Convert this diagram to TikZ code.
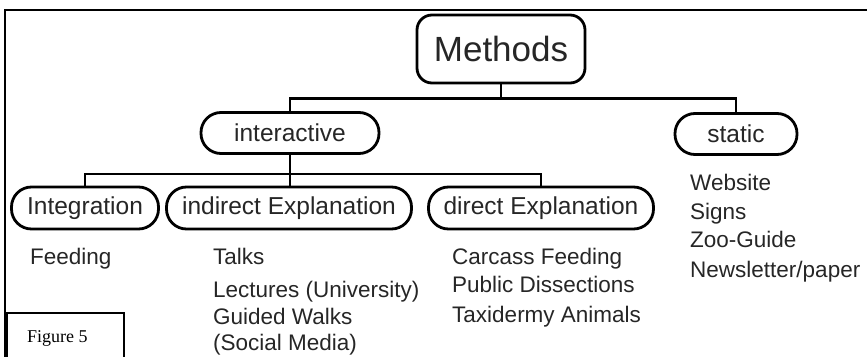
\documentclass[tikz,border=0pt]{standalone}
\usepackage{fontspec}
\setmainfont{Liberation Sans}
\newfontfamily\figfont{Liberation Serif}
\begin{document}
\begin{tikzpicture}[x=1pt,y=-1pt,
  box/.style={draw, line width=2.8pt, inner sep=0pt, rounded corners=20pt,
    font=\fontsize{24.5}{28}\selectfont, text=black!85},
  conn/.style={line width=2.8pt},
  item/.style={anchor=base west, inner sep=0pt,
    font=\fontsize{22.5}{26}\selectfont, text=black!85}]
\useasboundingbox (0,0) rectangle (867,356);
\draw[line width=2pt] (5,362) -- (5,10) -- (870,10);
% boxes
\node[box, rounded corners=15pt, minimum width=168pt, minimum height=68pt,
  font=\fontsize{35}{38}\selectfont] (methods) at (501,49) {Methods};
\node[box, minimum width=178pt, minimum height=41pt] (interactive) at (290,133) {interactive};
\node[box, minimum width=122pt, minimum height=41pt] (static) at (736,134) {static};
\node[box, minimum width=147pt, minimum height=42pt] (integration) at (85,208) {Integration};
\node[box, minimum width=245pt, minimum height=42pt] (indirect) at (289,208) {indirect Explanation};
\node[box, minimum width=225pt, minimum height=42pt] (direct) at (541,208) {direct Explanation};
% connectors
\draw[conn] (methods.south) -- ++(0,14) coordinate (b1);
\draw[conn] (interactive.north) |- (b1) -| (static.north);
\draw[conn] (interactive.south) -- ++(0,19) coordinate (b2);
\draw[conn] (b2) -- (b2 |- indirect.north);
\draw[conn] (integration.north) |- (b2) -| (direct.north);
% lists
\node[item] (feeding) at (30,264) {Feeding};
\node[item] (talks) at (213,264) {Talks};
\node[item] (lectures) at (213,297) {Lectures (University)};
\node[item] (walks) at (213,324) {Guided Walks};
\node[item] (social) at (213,350) {(Social Media)};
\node[item] (carcass) at (452,264) {Carcass Feeding};
\node[item] (dissect) at (452,292) {Public Dissections};
\node[item] (taxi) at (452,322) {Taxidermy Animals};
\node[item] (website) at (690,190) {Website};
\node[item] (signs) at (690,219) {Signs};
\node[item] (zoo) at (690,247) {Zoo-Guide};
\node[item] (news) at (690,277) {Newsletter/paper};
% figure label
\draw[line width=1.5pt] (7,362) -- (7,313) -- (124,313) -- (124,362);
\node[anchor=base west, inner sep=0pt, font=\figfont\fontsize{18}{20}\selectfont] (fig) at (27,342) {Figure 5};
\end{tikzpicture}
\end{document}
